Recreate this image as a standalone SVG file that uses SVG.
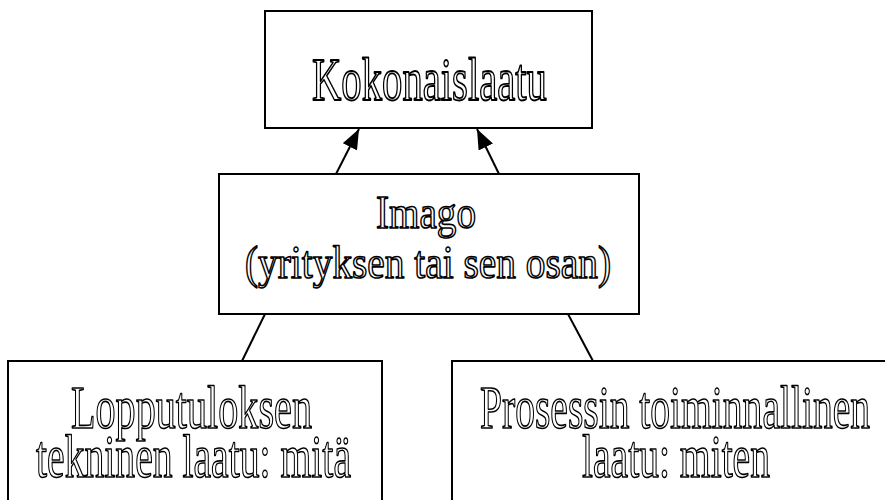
<svg xmlns="http://www.w3.org/2000/svg" width="885" height="500" viewBox="0 0 885 500">
<style>
.box{fill:#fff;stroke:#000;stroke-width:2}
.t{font-family:"Liberation Serif","Times New Roman",serif;fill:#fff;stroke:#000;stroke-width:1.6;stroke-linejoin:round;vector-effect:non-scaling-stroke}
.big{font-size:62px}
.mid{font-size:46px}
.conn{stroke:#000;stroke-width:2;fill:none}
</style>
<defs>
<marker id="ah" viewBox="0 0 20 16" refX="20" refY="8" markerWidth="20" markerHeight="16" markerUnits="userSpaceOnUse" orient="auto">
<path d="M0,0 L20,8 L0,16 z" fill="#000"/>
</marker>
</defs>
<rect width="885" height="500" fill="#fff"/>
<g id="connectors">
<line class="conn" x1="336" y1="174" x2="359" y2="129" marker-end="url(#ah)"/>
<line class="conn" x1="499" y1="174" x2="477" y2="129" marker-end="url(#ah)"/>
<line class="conn" x1="265" y1="314" x2="242" y2="361"/>
<line class="conn" x1="568" y1="314" x2="593" y2="361"/>
</g>
<g id="kokonaislaatu">
<rect class="box" x="265" y="11" width="327" height="117"/>
<text class="t big" transform="scale(0.65,1)" x="480" y="100" textLength="361.5" lengthAdjust="spacingAndGlyphs">Kokonaislaatu</text>
</g>
<g id="imago">
<rect class="box" x="219" y="174" width="420" height="140"/>
<text class="t mid" transform="scale(0.65,1)"><tspan x="578.5" y="228" textLength="153.8" lengthAdjust="spacingAndGlyphs">Imago</tspan><tspan x="376.9" y="278" textLength="563.1" lengthAdjust="spacingAndGlyphs">(yrityksen tai sen osan)</tspan></text>
</g>
<g id="lopputulos">
<rect class="box" x="8" y="361" width="374" height="150"/>
<text class="t big" transform="scale(0.65,1)"><tspan x="109.2" y="428" textLength="370.8" lengthAdjust="spacingAndGlyphs">Lopputuloksen</tspan><tspan x="55.4" y="477" textLength="484.6" lengthAdjust="spacingAndGlyphs">tekninen laatu: mitä</tspan></text>
</g>
<g id="prosessi">
<rect class="box" x="452" y="361" width="450" height="150"/>
<text class="t big" transform="scale(0.65,1)"><tspan x="738.5" y="428" textLength="600" lengthAdjust="spacingAndGlyphs">Prosessin toiminnallinen</tspan><tspan x="895.4" y="477" textLength="289.2" lengthAdjust="spacingAndGlyphs">laatu: miten</tspan></text>
</g>
</svg>
